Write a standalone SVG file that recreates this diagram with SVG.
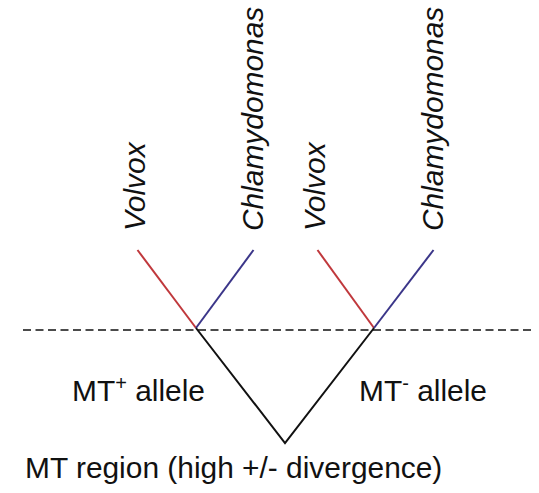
<svg xmlns="http://www.w3.org/2000/svg" width="539" height="493" viewBox="0 0 539 493">
<style>
text{font-family:"Liberation Sans",Arial,sans-serif;fill:#111111;font-size:29.9px}
.sp{font-style:italic}
.red{stroke:#c0383c;stroke-width:2;fill:none}
.blue{stroke:#3b3689;stroke-width:2;fill:none}
.blk{stroke:#111111;stroke-width:2;fill:none}
.dash{stroke:#111111;stroke-width:1.5;stroke-dasharray:8 4.5;fill:none}
</style>
<rect width="539" height="493" fill="#ffffff"/>
<g id="connectors">
<line class="dash" x1="23" y1="330" x2="531" y2="330"/>
<line class="red" x1="137.5" y1="250" x2="196" y2="328"/>
<line class="blue" x1="253.5" y1="250" x2="196" y2="328"/>
<line class="red" x1="317.5" y1="250" x2="374" y2="328"/>
<line class="blue" x1="433.5" y1="250" x2="374" y2="328"/>
<polyline class="blk" points="196,328 285,443 374,328"/>
</g>
<g id="volvox1"><text class="sp" transform="translate(145,231) rotate(-90)">Volvox</text></g>
<g id="chlamy1"><text class="sp" transform="translate(263,231) rotate(-90)">Chlamydomonas</text></g>
<g id="volvox2"><text class="sp" transform="translate(325,231) rotate(-90)">Volvox</text></g>
<g id="chlamy2"><text class="sp" transform="translate(443,231) rotate(-90)">Chlamydomonas</text></g>
<g id="mtplus"><text x="72" y="401">MT<tspan font-size="20" dy="-11">+</tspan><tspan dy="11"> allele</tspan></text></g>
<g id="mtminus"><text x="359" y="401">MT<tspan font-size="20" dy="-11">-</tspan><tspan dy="11"> allele</tspan></text></g>
<g id="region"><text x="25" y="478">MT region (high +/- divergence)</text></g>
</svg>
